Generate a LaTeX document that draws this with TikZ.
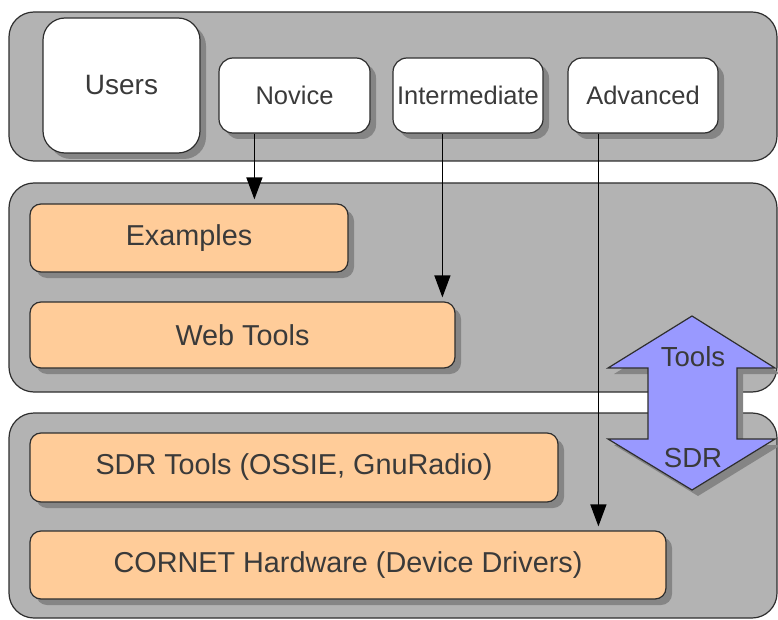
\documentclass[tikz,border=0pt]{standalone}
\usepackage{fontspec}
\setmainfont{Liberation Sans}
\usetikzlibrary{shadows,arrows.meta}

\definecolor{panelgray}{HTML}{B3B3B3}
\definecolor{peach}{HTML}{FFCC99}
\definecolor{lavender}{HTML}{9999FF}
\definecolor{edge}{HTML}{2E2E2E}
\definecolor{shade}{HTML}{858585}
\definecolor{ink}{HTML}{3A3A3A}

\tikzset{
  outline/.style={draw=edge, line width=1.2pt},
  softshadow/.style={drop shadow={shadow xshift=6pt, shadow yshift=-6pt, fill=shade, opacity=1}},
  panel/.style={outline, fill=panelgray, rounded corners=25pt, inner sep=0pt},
  userbox/.style={outline, softshadow, fill=white, rounded corners=14pt, text=ink,
    font=\fontsize{25.5}{28}\selectfont, inner sep=0pt, minimum width=150pt, minimum height=75pt},
  layerbox/.style={outline, softshadow, fill=peach, rounded corners=11pt, text=ink,
    font=\fontsize{28.8}{32}\selectfont, inner sep=0pt},
  flow/.style={line width=1.3pt, -{Triangle[length=22pt,width=16pt]}, shorten >=4pt},
  tag/.style={text=ink, font=\fontsize{27.6}{30}\selectfont, inner sep=0pt}
}

\begin{document}
\begin{tikzpicture}[x=1pt, y=-1pt]
\useasboundingbox (0,0) rectangle (778,620);

% three layer panels
\node[panel, minimum width=768pt, minimum height=149pt] (top) at (393,86.5) {};
\node[panel, minimum width=768pt, minimum height=209pt] (mid) at (393,287.5) {};
\node[panel, minimum width=768pt, minimum height=205pt] (bot) at (393,515.5) {};

% user categories
\node[userbox, rounded corners=22pt, minimum width=157pt, minimum height=135pt,
      font=\fontsize{28}{30}\selectfont] (users) at (121.5,85.5) {Users};
\node[userbox, minimum width=151pt] (nov) at (294.5,95.5) {Novice};
\node[userbox] (inter) at (468,95.5) {Intermediate};
\node[userbox] (adv) at (643,95.5) {Advanced};

% software / hardware layers
\node[layerbox, minimum width=318pt, minimum height=68pt] (ex) at (189,238) {Examples};
\node[layerbox, minimum width=425pt, minimum height=66pt] (web) at (242.5,335) {Web Tools};
\node[layerbox, minimum width=528pt, minimum height=69pt] (sdr) at (294,467.5) {SDR Tools (OSSIE, GnuRadio)};
\node[layerbox, minimum width=636pt, minimum height=68pt] (hw) at (348,565) {CORNET Hardware (Device Drivers)};

% double arrow between the tool layer and the SDR layer
\path[outline, fill=lavender, softshadow, line join=miter]
  (692,316) -- (775,368) -- (737,368) -- (737,439) -- (775,439) -- (692,490)
  -- (608,439) -- (648,439) -- (648,368) -- (608,368) -- cycle;
\node[tag] (tools) at (693,357) {Tools};
\node[tag] (sdrtag) at (693,458) {SDR};

% entry points of each user category
\coordinate (novout) at ([xshift=36pt]nov.south west);
\coordinate (interout) at ([xshift=50pt]inter.south west);
\coordinate (advout) at ([xshift=31pt]adv.south west);
\draw[flow] (novout) -- (novout |- ex.north);
\draw[flow] (interout) -- (interout |- web.north);
\draw[flow] (advout) -- (advout |- hw.north);
\end{tikzpicture}
\end{document}
